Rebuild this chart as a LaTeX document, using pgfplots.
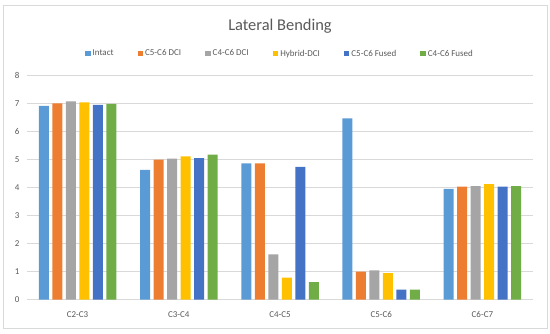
\documentclass[border=0pt]{standalone}
\usepackage{pgfplots}
\pgfplotsset{compat=1.18}
\usepackage{fontspec}
\setmainfont{Carlito}
\definecolor{cIntact}{HTML}{5B9BD5}
\definecolor{cA}{HTML}{ED7D31}
\definecolor{cB}{HTML}{A5A5A5}
\definecolor{cC}{HTML}{FFC000}
\definecolor{cD}{HTML}{4472C4}
\definecolor{cE}{HTML}{70AD47}
\definecolor{txt}{HTML}{595959}
\begin{document}
\begin{tikzpicture}[x=1bp,y=1bp]
\begin{axis}[
  name=ax,
  scale only axis,
  width=506bp, height=224bp,
  xmin=-0.5, xmax=4.5, ymin=0, ymax=8,
  ybar=3.5bp, bar width=10bp,
  xtick={0,1,2,3,4},
  xticklabels={C2-C3,C3-C4,C4-C5,C5-C6,C6-C7},
  ytick={0,1,...,8},
  ymajorgrids, grid style={draw=black!15, line width=0.6pt},
  axis line style={draw=none},
  x axis line style={draw=black!15},
  major tick length=0pt,
  tick label style={font=\fontsize{9}{10}\selectfont, text=txt},
  /pgf/number format/assume math mode=true,
  xticklabel style={yshift=-8bp},
  yticklabel style={xshift=-4bp},
  title={Lateral Bending},
  every axis title shift=0pt,
  title style={font=\fontsize{16.5}{18}\selectfont, text=txt, at={(0.5,1)}, anchor=center, yshift=49.7bp},
  legend style={at={(0.5,1)}, anchor=center, yshift=22bp, draw=none, fill=none,
    legend columns=-1, font=\fontsize{9}{10}\selectfont, text=txt,
    /tikz/every even column/.append style={column sep=22bp}},
  legend image code/.code={\fill[#1] (0bp,-2.8bp) rectangle (5.6bp,2.8bp);},
  every axis plot/.append style={draw=none},
]
\addplot[fill=cIntact] coordinates {(0,6.92) (1,4.64) (2,4.87) (3,6.48) (4,3.96)};
\addplot[fill=cA] coordinates {(0,7.01) (1,5.00) (2,4.87) (3,1.00) (4,4.04)};
\addplot[fill=cB] coordinates {(0,7.08) (1,5.04) (2,1.62) (3,1.05) (4,4.06)};
\addplot[fill=cC] coordinates {(0,7.05) (1,5.12) (2,0.79) (3,0.95) (4,4.13)};
\addplot[fill=cD] coordinates {(0,6.96) (1,5.06) (2,4.74) (3,0.36) (4,4.04)};
\addplot[fill=cE] coordinates {(0,6.99) (1,5.18) (2,0.63) (3,0.36) (4,4.06)};
\legend{Intact, C5-C6 DCI, C4-C6 DCI, Hybrid-DCI, C5-C6 Fused, C4-C6 Fused}
\end{axis}
\draw[black!15, line width=0.6pt] ([shift={(-24bp,-29bp)}]ax.south west) rectangle ([shift={(14bp,70.7bp)}]ax.north east);
\useasboundingbox ([shift={(-27bp,-34bp)}]ax.south west) rectangle ([shift={(17bp,75.7bp)}]ax.north east);
\end{tikzpicture}
\end{document}
